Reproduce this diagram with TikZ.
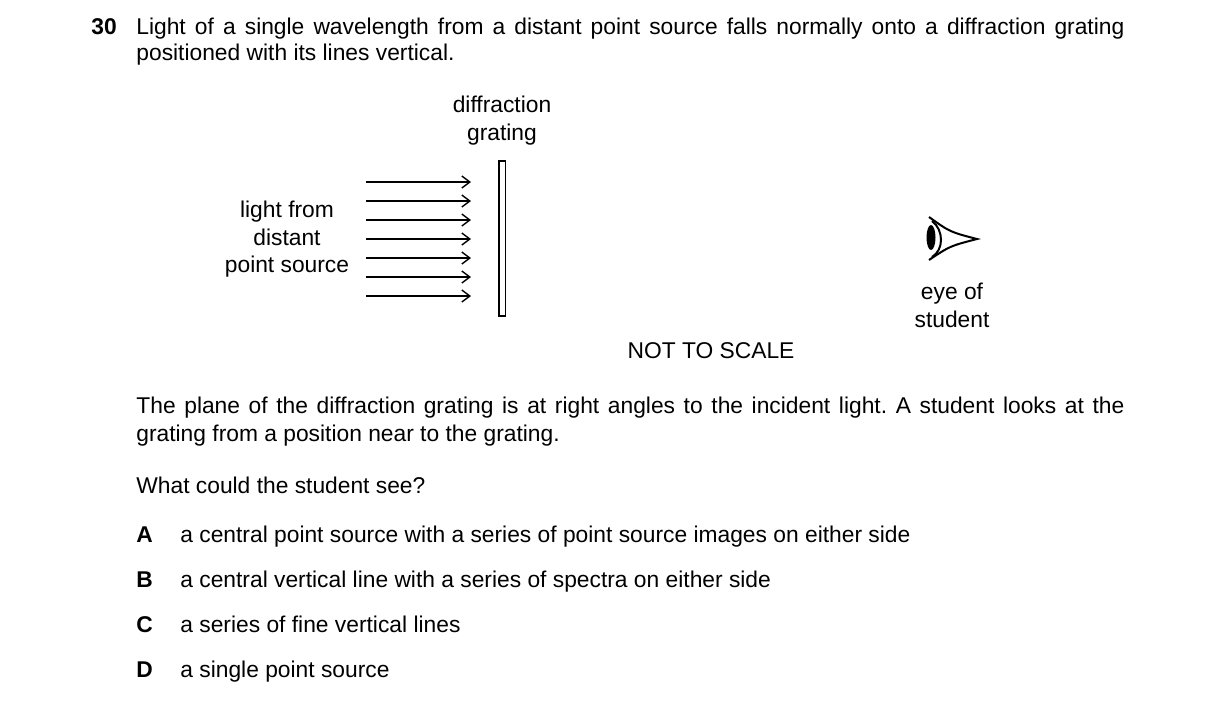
\documentclass[tikz,border=0pt]{standalone}
\usepackage{fontspec}
\setmainfont{Liberation Sans}
\usetikzlibrary{arrows.meta}
\begin{document}
\frenchspacing
\begin{tikzpicture}[x=0.5pt,y=-0.5pt,
  txt/.style={inner sep=0pt,anchor=base west,font=\fontsize{11.4}{13}\selectfont},
  ctr/.style={inner sep=0pt,anchor=base,font=\fontsize{11.4}{13}\selectfont},
  ray/.style={line width=0.7pt,-{Straight Barb[length=4pt,width=6pt]}}]
\useasboundingbox (0,0) rectangle (1216,707);
\node[txt,font=\fontsize{11.4}{13}\selectfont\bfseries] (n) at (91,34) {30};
\node[txt] (l1) at (136,34) {\makebox[494pt][s]{Light of a single wavelength from a distant point source falls normally onto a diffraction grating}};
\node[txt] (l2) at (136,60) {positioned with its lines vertical.};
\node[ctr] (d1) at (502,112) {diffraction};
\node[ctr] (d2) at (502,140) {grating};
\node[ctr] (s1) at (287,217) {light from};
\node[ctr] (s2) at (287,245) {distant};
\node[ctr] (s3) at (287,272) {point source};
\node[ctr] (e1) at (952,299) {eye of};
\node[ctr] (e2) at (952,327) {student};
\node[ctr] (ns) at (711,358) {NOT TO SCALE};
\foreach \y [count=\i] in {182,201,220,239,258,277,296}{
  \coordinate (a\i) at (366,\y); \coordinate (b\i) at (471,\y);
  \draw[ray] (a\i) -- (b\i);}
\node[draw,line width=0.7pt,minimum width=3.2pt,minimum height=77.5pt,inner sep=0pt] (g) at (502,238.5) {};
% eye
\coordinate (ap) at (977,239);
\draw[line width=1pt] (929,217) .. controls (950,232) .. (ap) .. controls (950,246) .. (929,260);
\draw[line width=1pt] (932,221) .. controls (944,230) and (944,250) .. (932,257);
\fill (931,237.5) ellipse (4.5 and 12.5);
\node[txt] (p1) at (136,413) {\makebox[494pt][s]{The plane of the diffraction grating is at right angles to the incident light. A student looks at the}};
\node[txt] (p2) at (136,441) {grating from a position near to the grating.};
\node[txt] (q) at (136,493) {What could the student see?};
\foreach \l/\t/\y in {A/a central point source with a series of point source images on either side/542,
  B/a central vertical line with a series of spectra on either side/587,
  C/a series of fine vertical lines/632,
  D/a single point source/677}{
  \node[txt,font=\fontsize{11.4}{13}\selectfont\bfseries] (L\l) at (136,\y) {\l};
  \node[txt] (T\l) at (180,\y) {\t};}
\end{tikzpicture}
\end{document}
